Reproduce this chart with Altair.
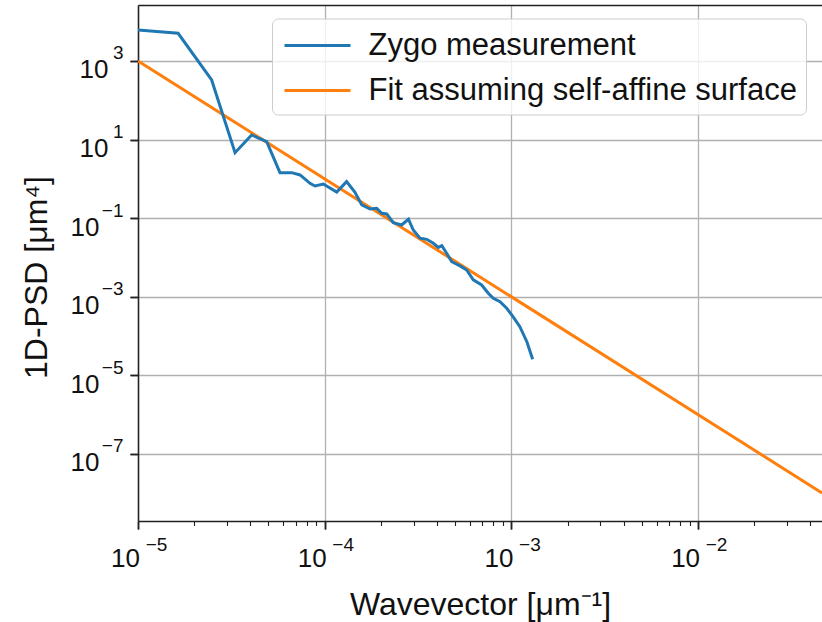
import altair as alt
import pandas as pd

# ---- data ----
zygo_q = [1.0e-5, 1.64e-5, 2.48e-5, 3.31e-5, 4.06e-5, 4.89e-5, 5.76e-5, 6.65e-5, 7.38e-5,
          8.34e-5, 8.87e-5, 9.83e-5, 1.16e-4, 1.31e-4, 1.45e-4, 1.58e-4, 1.75e-4, 1.90e-4,
          2.02e-4, 2.15e-4, 2.33e-4, 2.58e-4, 2.81e-4, 2.98e-4, 3.24e-4, 3.52e-4, 3.82e-4,
          4.06e-4, 4.24e-4, 4.50e-4, 4.79e-4, 5.31e-4, 5.76e-4, 6.25e-4, 6.93e-4, 7.52e-4,
          8.0e-4, 8.69e-4, 9.44e-4, 1.02e-3, 1.11e-3, 1.21e-3, 1.30e-3]
zygo_psd = [6150, 5070, 329, 4.65, 13.1, 8.85, 1.44, 1.44, 1.26, 0.77, 0.66, 0.74, 0.46,
            0.85, 0.46, 0.217, 0.171, 0.178, 0.133, 0.128, 0.077, 0.067, 0.094, 0.050,
            0.031, 0.029, 0.023, 0.018, 0.020, 0.0128, 0.0078, 0.0061, 0.0048, 0.0027,
            0.0020, 0.00123, 0.00092, 0.00075, 0.00051, 3.12e-4, 1.73e-4, 7.2e-5, 2.57e-5]
fit_q = [1.0e-5, 0.0461]
fit_psd = [1.0e3, 1.02e-8]

series_names = ["Zygo measurement", "Fit assuming self-affine surface"]
series_colors = ["#1f77b4", "#ff7f0e"]

x_decades = [1e-5, 1e-4, 1e-3, 1e-2]
x_minor_mult = [1, 2, 3, 4, 5, 6, 7, 8, 9]
x_ticks_all = [d * m for d in x_decades for m in x_minor_mult]
y_decades = [1e-7, 1e-5, 1e-3, 1e-1, 1e1, 1e3]

x_domain = [1e-5, 0.0461]
y_domain = [1.97e-9, 2.66e4]

zygo_df = pd.DataFrame({"q": zygo_q, "psd": zygo_psd, "series": series_names[0]})
fit_df = pd.DataFrame({"q": fit_q, "psd": fit_psd, "series": series_names[1]})

FONT = "Liberation Sans"
E = "(log(datum.value)/LN10)"
IS_DEC = f"abs({E} - round({E})) < 0.001"
EXP_LABEL = f"{IS_DEC} ? ((round({E}) < 0 ? '\u2212' : '') + abs(round({E}))) : ''"

xscale = alt.Scale(type="log", domain=x_domain, nice=False)
yscale = alt.Scale(type="log", domain=y_domain, nice=False)
cscale = alt.Scale(domain=series_names, range=series_colors)

# axis with "10" base labels, grid and major ticks
x_axis_base = alt.Axis(orient="bottom", values=x_decades, labelExpr="'10'", grid=True,
                       gridColor="#b0b0b0", gridWidth=1.3, tickSize=8, tickWidth=1.5,
                       tickColor="#222", domainColor="#222", domainWidth=1.5,
                       labelFont=FONT, labelFontSize=26, labelColor="#111",
                       labelOffset=-13, labelPadding=16, labelOverlap=False,
                       labelFlush=False, title="Wavevector [\u03bcm\u207b\u00b9]",
                       titleFont=FONT, titleFontSize=32, titleFontWeight="normal",
                       titleColor="#111", titleY=93, titleBaseline="alphabetic")
y_axis_base = alt.Axis(orient="left", values=y_decades, labelExpr="'10'", grid=True,
                       gridColor="#b0b0b0", gridWidth=1.3, tickSize=8, tickWidth=1.5,
                       tickColor="#222", domainColor="#222", domainWidth=1.5,
                       labelFont=FONT, labelFontSize=26, labelColor="#111", labelOffset=9,
                       labelAlign="right", labelBaseline="middle",
                       labelPadding={"condition": {"test": "datum.value > 1", "value": 22},
                                     "value": 31},
                       labelOverlap=False, labelFlush=False,
                       title="1D-PSD [\u03bcm\u2074]", titleFont=FONT, titleFontSize=32,
                       titleFontWeight="normal", titleColor="#111", titleX=-92, titleY=272,
                       titleAngle=-90, titleBaseline="alphabetic", titleAlign="center")

# axis with exponent labels and minor ticks
x_axis_exp = alt.Axis(values=x_ticks_all, labelExpr=EXP_LABEL, grid=False, orient="bottom",
                      tickSize={"condition": {"test": IS_DEC, "value": 8}, "value": 4.5},
                      tickWidth={"condition": {"test": IS_DEC, "value": 1.5}, "value": 1.1},
                      tickColor="#222", domain=False, labelFont=FONT, labelFontSize=19,
                      labelColor="#111", labelOffset=18, labelPadding=6,
                      labelOverlap=False, labelFlush=False, title=None)
y_axis_exp = alt.Axis(values=y_decades, labelExpr=EXP_LABEL, grid=False, orient="left",
                      tickSize=8, tickWidth=1.5, tickColor="#222", domain=False,
                      labelFont=FONT, labelFontSize=19, labelColor="#111", labelOffset=-8,
                      labelAlign="right", labelBaseline="middle", labelPadding=7,
                      labelOverlap=False, labelFlush=False, title=None)

legend = alt.Legend(title=None, orient="none", legendX=134, legendY=13.5,
                    symbolType="M-2,0H2", symbolSize=33 * 33, symbolStrokeWidth=3,
                    symbolOffset=18.5, labelOffset=33, labelFont=FONT, labelFontSize=31,
                    labelColor="#111", labelLimit=700, rowPadding=12, padding=9,
                    fillColor="rgba(255,255,255,0.8)", strokeColor="#cccccc",
                    cornerRadius=6)

zygo = alt.Chart(zygo_df).mark_line(strokeWidth=3, clip=True).encode(
    x=alt.X("q:Q", scale=xscale, axis=x_axis_base),
    y=alt.Y("psd:Q", scale=yscale, axis=y_axis_base),
    color=alt.Color("series:N", scale=cscale, legend=legend),
    order=alt.Order("q:Q"),
)

fit = alt.Chart(fit_df).mark_line(strokeWidth=3, clip=True).encode(
    x=alt.X("q:Q", scale=xscale, axis=x_axis_exp),
    y=alt.Y("psd:Q", scale=yscale, axis=y_axis_exp),
    color=alt.Color("series:N", scale=cscale, legend=legend),
)

frame_top = alt.Chart(fit_df).mark_line(opacity=0).encode(
    x=alt.X("q:Q", scale=xscale,
            axis=alt.Axis(orient="top", labels=False, ticks=False, grid=False,
                          domainColor="#222", domainWidth=1.5, title=None)),
    y=alt.Y("psd:Q", scale=yscale, axis=None),
)

chart = alt.layer(fit, zygo, frame_top).resolve_axis(x="independent", y="independent").properties(
    width=684, height=516,
    autosize=alt.AutoSizeParams(type="none"),
    padding={"left": 138, "top": 5, "right": 0, "bottom": 101},
).configure_view(stroke=None).configure(background="white")

chart.save("out.html", embed_options={"renderer": "svg", "actions": False})
